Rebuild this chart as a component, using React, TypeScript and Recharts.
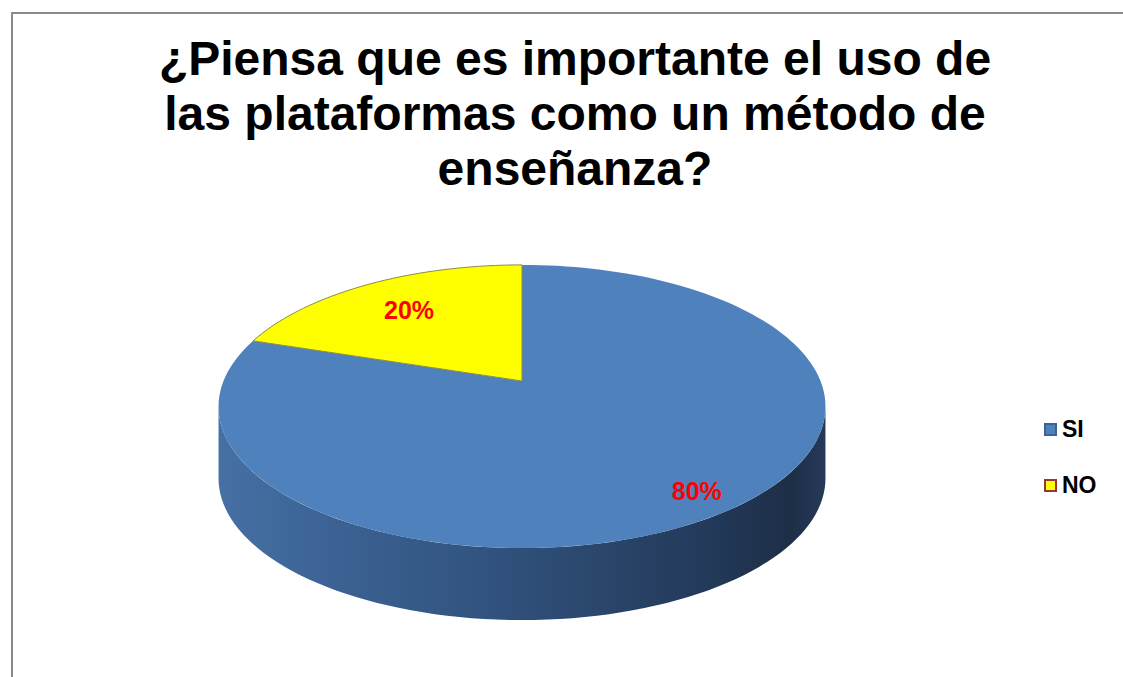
import React from "react"
import { PieChart, Pie, Cell, Legend } from "recharts"

const CATEGORIES = ["SI", "NO"]
const VALUES = [80, 20]
const PERCENT_LABELS = ["80%", "20%"]
const COLORS = ["#4F81BD", "#FFFF00"]
const BORDERS = ["#3A6496", "#953735"]
const TITLE_LINES = [
  "¿Piensa que es importante el uso de",
  "las plataformas como un método de",
  "enseñanza?",
]

const data = CATEGORIES.map((name, i) => ({ name, value: VALUES[i] }))

// fake 3d: tilt + a bit of perspective, extruded down
const TILT = 0.459
const PERSP = 0.18
const DEPTH = 72
const VIS_FROM = 180 + (Math.asin(PERSP) * 180) / Math.PI
const VIS_TO = 360 - (Math.asin(PERSP) * 180) / Math.PI
const FONT = "'Liberation Sans', Arial, sans-serif"

function project(cx: number, cy: number, r: number, deg: number, f = 1, dz = 0) {
  const t = (deg * Math.PI) / 180
  const u = Math.cos(t) * f
  const v = Math.sin(t) * f
  const w = 1 + PERSP * v
  return [cx + (r * u) / w, cy - (r * TILT * v) / w + dz]
}

function arc(cx: number, cy: number, r: number, a0: number, a1: number, dz = 0) {
  const steps = Math.max(8, Math.ceil(Math.abs(a1 - a0) / 2))
  const pts: string[] = []
  for (let i = 0; i <= steps; i++) {
    const [x, y] = project(cx, cy, r, a0 + ((a1 - a0) * i) / steps, 1, dz)
    pts.push(`${x.toFixed(2)},${y.toFixed(2)}`)
  }
  return pts
}

function Slice3D(props: any) {
  const { cx, cy, outerRadius, startAngle, endAngle, index } = props
  const lo = Math.min(startAngle, endAngle)
  const hi = Math.max(startAngle, endAngle)

  const sides: string[] = []
  for (const shift of [-360, 0, 360]) {
    const s = Math.max(lo + shift, VIS_FROM)
    const e = Math.min(hi + shift, VIS_TO)
    if (s < e) {
      const top = arc(cx, cy, outerRadius, s, e)
      const bottom = arc(cx, cy, outerRadius, e, s, DEPTH)
      sides.push(`M${top.join("L")}L${bottom.join("L")}Z`)
    }
  }

  const topFace = `M${cx},${cy}L${arc(cx, cy, outerRadius, startAngle, endAngle).join("L")}Z`
  const mid = (startAngle + endAngle) / 2
  const [lx, ly] = project(cx, cy, outerRadius, mid, index === 0 ? 0.87 : 0.71)
  const gradId = `side-${index}`

  return (
    <g>
      <defs>
        <linearGradient id={gradId} x1="0" y1="0" x2="1" y2="0">
          <stop offset="0%" stopColor="#4670a4" />
          <stop offset="15%" stopColor="#3d6597" />
          <stop offset="50%" stopColor="#2f4f79" />
          <stop offset="80%" stopColor="#233a5a" />
          <stop offset="94%" stopColor="#1d2e47" />
          <stop offset="100%" stopColor="#26395a" />
        </linearGradient>
      </defs>
      {sides.map((d, i) => (
        <path key={i} d={d} fill={`url(#${gradId})`} stroke="none" />
      ))}
      <path
        d={topFace}
        fill={COLORS[index]}
        stroke={index === 1 ? "#8c8c46" : "none"}
        strokeWidth={1}
      />
      <text
        x={lx}
        y={ly}
        textAnchor="middle"
        dominantBaseline="central"
        fill="#FF0000"
        fontFamily={FONT}
        fontWeight="bold"
        fontSize={25}
      >
        {PERCENT_LABELS[index]}
      </text>
    </g>
  )
}

function LegendBox(props: any) {
  const names: string[] = (props.payload || []).map((p: any) => p.value)
  const items = CATEGORIES.filter((c) => names.length === 0 || names.includes(c))
  return (
    <div style={{ fontFamily: FONT, fontWeight: "bold", fontSize: 23 }}>
      {items.map((name, n) => {
        const i = CATEGORIES.indexOf(name)
        return (
          <div key={name} style={{ display: "flex", alignItems: "center", height: 28, marginBottom: n === 0 ? 28 : 0 }}>
            <span
              style={{
                display: "inline-block",
                width: 9,
                height: 9,
                background: COLORS[i],
                border: `2px solid ${BORDERS[i]}`,
                marginRight: 5,
              }}
            />
            <span style={{ color: "#000" }}>{name}</span>
          </div>
        )
      })}
    </div>
  )
}

export default function App() {
  return (
    <div
      style={{
        position: "absolute",
        left: 0,
        top: 0,
        width: 1123,
        height: 677,
        overflow: "hidden",
        background: "#fff",
      }}
    >
      <div
        style={{
          position: "absolute",
          left: 11,
          top: 12,
          width: 1200,
          height: 800,
          border: "2px solid #8a8a8a",
        }}
      />
      <div
        style={{
          position: "absolute",
          left: 0,
          top: 31,
          width: 1150,
          textAlign: "center",
          fontFamily: FONT,
          fontWeight: "bold",
          fontSize: 48,
          lineHeight: "55px",
          color: "#000",
        }}
      >
        {TITLE_LINES.map((line) => (
          <div key={line}>{line}</div>
        ))}
      </div>
      <div style={{ position: "absolute", left: 0, top: 0 }}>
        <PieChart width={1123} height={677} margin={{ top: 0, right: 0, bottom: 0, left: 0 }}>
          <Pie
            data={data}
            dataKey="value"
            nameKey="name"
            cx={522}
            cy={381}
            outerRadius={298.5}
            startAngle={90}
            endAngle={-270}
            stroke="none"
            fillOpacity={0}
            label={Slice3D}
            labelLine={false}
            isAnimationActive={false}
          >
            {data.map((d, i) => (
              <Cell key={d.name} fill={COLORS[i]} />
            ))}
          </Pie>
          <Legend
            layout="vertical"
            verticalAlign="middle"
            align="right"
            content={<LegendBox />}
            wrapperStyle={{ left: 1044, top: 415, width: 79, right: "auto", bottom: "auto" }}
          />
        </PieChart>
      </div>
    </div>
  )
}
